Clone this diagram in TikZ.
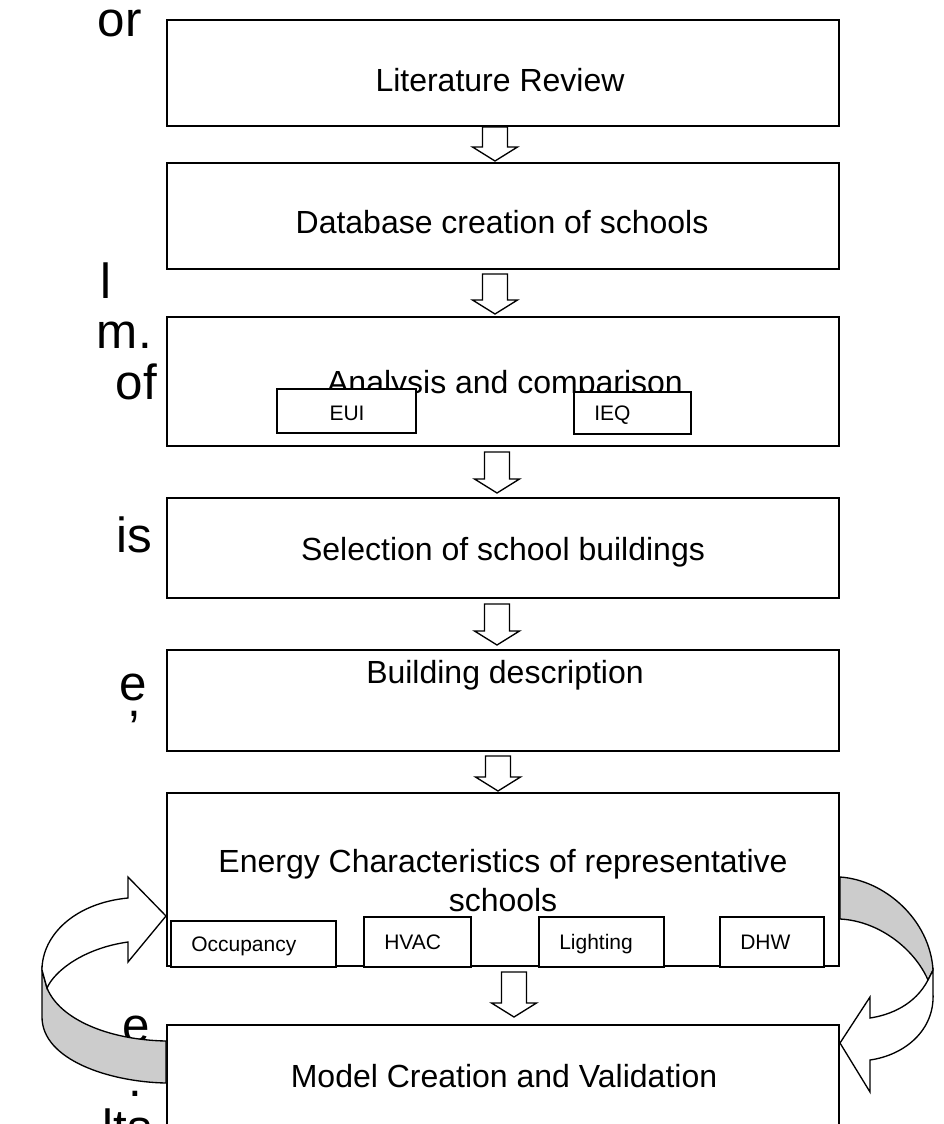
\documentclass[tikz,border=0pt]{standalone}
\usepackage{fontspec}
\setmainfont{Liberation Sans}
\usetikzlibrary{calc}
\newcommand\blockarr[5]{% from, to, x-coordinate name, top gap, tip gap
  \coordinate (bs) at ($(#1.south -| #3)+(0,#4)$);
  \coordinate (bt) at ($(#2.north -| #3)+(0,-#5)$);
  \draw[barrow] ($(bs)+(-12.5,0)$) -- ($(bs)+(12.5,0)$) -- ($(bt)+(12.5,-14)$)
    -- ($(bt)+(22.5,-14)$) -- (bt) -- ($(bt)+(-22.5,-14)$) -- ($(bt)+(-12.5,-14)$) -- cycle;
}
\begin{document}
\begin{tikzpicture}[x=0.75pt,y=-0.75pt,
  mainbox/.style={draw, line width=1.5pt, inner sep=0pt, minimum width=504pt},
  smallbox/.style={draw, fill=white, line width=1.1pt, inner sep=0pt},
  maintext/.style={font=\fontsize{24}{28}\selectfont, inner sep=0pt, anchor=base},
  smalltext/.style={font=\fontsize{15.75}{18}\selectfont, inner sep=0pt, anchor=base west},
  sidetext/.style={font=\fontsize{37}{40}\selectfont, inner sep=0pt, anchor=base east},
  barrow/.style={draw, fill=white, line width=1pt, line join=miter},
  ribbon/.style={draw, line width=1pt, line join=miter},
  ribbonback/.style={ribbon, fill=black!20},
  ribbonfront/.style={ribbon, fill=white}]
\useasboundingbox (0,0) rectangle (944,1124);

% fragments of the neighbouring text column
\node[sidetext] (f1) at (142,37) {or};
\node[sidetext] (f2) at (112,298) {l};
\node[sidetext] (f3) at (152,348) {m.};
\node[sidetext] (f4) at (157,399) {of};
\node[sidetext] (f5) at (152,552) {is};
\node[sidetext] (f6) at (147,700) {e\llap{\raisebox{-12pt}{,}\hspace{4.5pt}}};
\node[sidetext] (f8) at (150,1042) {e};
\node[sidetext] (f9) at (142,1096) {.};
\node[sidetext] (f10) at (152,1144) {lts};

% main boxes
\node[mainbox, minimum height=79.5pt] (b1) at (503,73) {};
\node[mainbox, minimum height=79.5pt] (b2) at (503,216) {};
\node[mainbox, minimum height=96.75pt] (b3) at (503,381.5) {};
\node[mainbox, minimum height=75pt] (b4) at (503,548) {};
\node[mainbox, minimum height=75.75pt] (b5) at (503,700.5) {};
\node[mainbox, minimum height=129.75pt] (b6) at (503,879.5) {};
\node[mainbox, minimum height=101.25pt] (b7) at (503,1092.5) {};

% main texts
\node[maintext] (t1) at (500,91) {Literature Review};
\node[maintext] (t2) at (502,233) {Database creation of schools};
\node[maintext] (t3) at (505,393) {Analysis and comparison};
\node[maintext] (t4) at (503,560) {Selection of school buildings};
\node[maintext] (t5) at (505,683) {Building description};
\node[maintext] (t6a) at (503,872) {Energy Characteristics of representative};
\node[maintext] (t6b) at (503,911) {schools};
\node[maintext] (t7) at (504,1087) {Model Creation and Validation};

% sub boxes
\node[smallbox, minimum width=104.25pt, minimum height=33pt] (eui) at (346.5,411) {};
\node[smalltext, anchor=base] at (347,420) {EUI};
\node[smallbox, minimum width=87.75pt, minimum height=31.5pt] (ieq) at (632.5,413) {};
\node[smalltext] at (594,420) {IEQ};

\node[smallbox, minimum width=123.75pt, minimum height=34.5pt] (occ) at (253.5,944) {};
\node[smalltext] at (191,951) {Occupancy};
\node[smallbox, minimum width=80.25pt, minimum height=37.5pt] (hvac) at (417.5,942) {};
\node[smalltext] at (384,949) {HVAC};
\node[smallbox, minimum width=93.75pt, minimum height=37.5pt] (light) at (601.5,942) {};
\node[smalltext] at (559,949) {Lighting};
\node[smallbox, minimum width=78pt, minimum height=37.5pt] (dhw) at (772,942) {};
\node[smalltext] at (740,949) {DHW};

% block arrows between the steps
\coordinate (xa) at (495,0);
\coordinate (xb) at (497,0);
\coordinate (xc) at (498,0);
\coordinate (xd) at (514,0);
\blockarr{b1}{b2}{xa}{0}{1}
\blockarr{b2}{b3}{xa}{4}{2}
\blockarr{b3}{b4}{xb}{5}{4}
\blockarr{b4}{b5}{xb}{5}{4}
\blockarr{b5}{b6}{xc}{4}{1}
\blockarr{b6}{b7}{xd}{5}{7}

% left curved ribbon arrow (b7 -> b6)
\draw[ribbonback] (42,970) -- (42,1017) .. controls (42,1060) and (110,1082) .. (b7.west |- 0,1083)
  -- (b7.west |- 0,1041) .. controls (110,1040) and (60,1020) .. (47,988) -- cycle;
\draw[ribbonfront] (42,970) .. controls (42,935) and (75,903) .. (128,898) -- (128,877)
  -- (b6.west |- 0,916) -- (128,962) -- (128,942) .. controls (85,948) and (55,970) .. (47,988) -- cycle;

% right curved ribbon arrow (b6 -> b7)
\draw[ribbonback] (b6.east |- 0,877) .. controls (885,880) and (930,920) .. (933,970)
  -- (928,980) .. controls (915,950) and (880,921) .. (b6.east |- 0,919) -- cycle;
\draw[ribbonfront] (933,970) -- (933,993) .. controls (935,1030) and (905,1055) .. (870,1060)
  -- (870,1092) -- (b7.east |- 0,1043) -- (870,997) -- (870,1018)
  .. controls (890,1015) and (915,1005) .. (928,980) -- cycle;
\end{tikzpicture}
\end{document}
